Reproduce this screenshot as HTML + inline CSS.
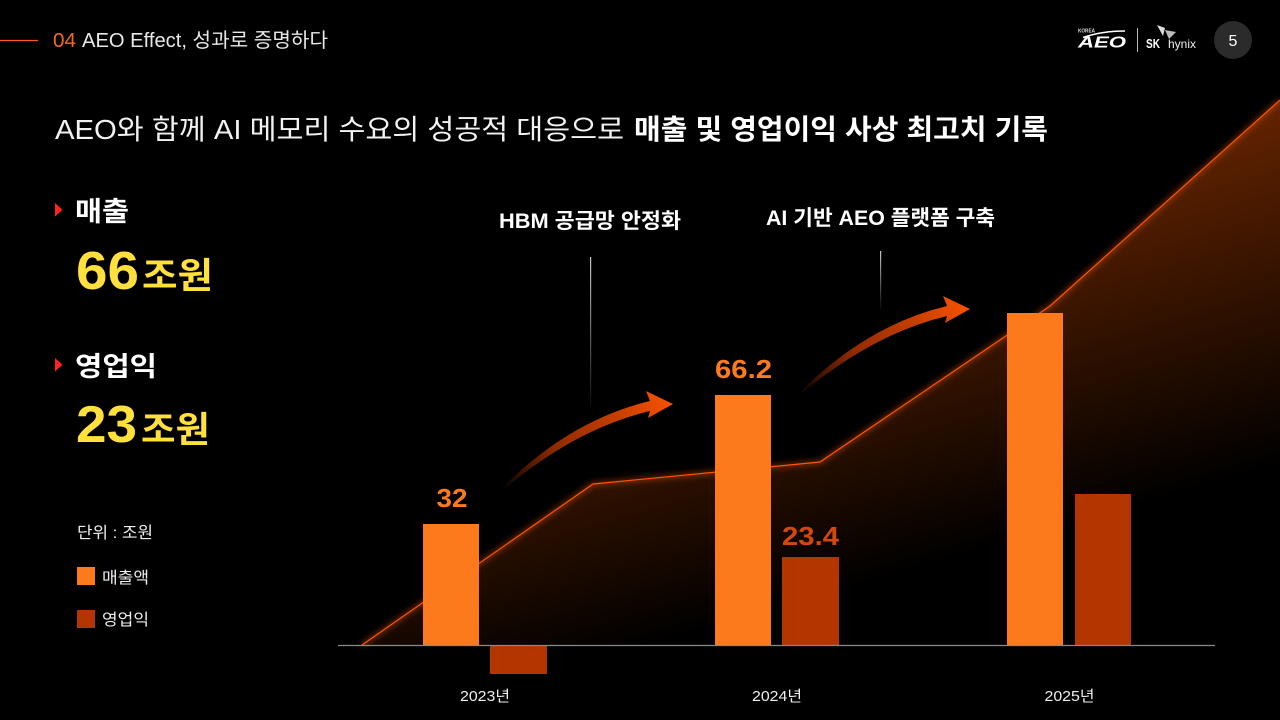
<!DOCTYPE html>
<html>
<head>
<meta charset="utf-8">
<style>
  html,body{margin:0;padding:0;background:#000;}
  body{width:1280px;height:720px;overflow:hidden;}
  svg{display:block;}
  text{font-family:"Liberation Sans","Noto Sans CJK KR",sans-serif;}
</style>
</head>
<body>
<svg width="1280" height="720" viewBox="0 0 1280 720" xmlns="http://www.w3.org/2000/svg">
  <defs>
    <linearGradient id="areaG" gradientUnits="userSpaceOnUse" x1="525" y1="308" x2="624" y2="654">
      <stop offset="0" stop-color="#ff5a00" stop-opacity="0.40"/>
      <stop offset="1" stop-color="#ff5a00" stop-opacity="0"/>
    </linearGradient>
    <linearGradient id="arrowG" gradientUnits="userSpaceOnUse" x1="502" y1="488" x2="673" y2="404">
      <stop offset="0" stop-color="#e04400" stop-opacity="0"/>
      <stop offset="0.35" stop-color="#c23a00" stop-opacity="0.75"/>
      <stop offset="1" stop-color="#f85200" stop-opacity="1"/>
    </linearGradient>
    <linearGradient id="vline" x1="0" y1="0" x2="0" y2="1">
      <stop offset="0" stop-color="#c8c8c8" stop-opacity="1"/>
      <stop offset="1" stop-color="#c8c8c8" stop-opacity="0"/>
    </linearGradient>
    <filter id="glow" x="-20%" y="-20%" width="140%" height="140%">
      <feGaussianBlur stdDeviation="3"/>
    </filter>
  </defs>

  <rect width="1280" height="720" fill="#000"/>

  <!-- header -->
  <line x1="0" y1="40.5" x2="38" y2="40.5" stroke="#ff5a1a" stroke-width="1.2"/>
  <text x="53" y="47" font-size="20" fill="#f26a22" textLength="23" lengthAdjust="spacingAndGlyphs">04</text>
  <text x="82" y="47" font-size="20" fill="#e8e8e8" textLength="246" lengthAdjust="spacingAndGlyphs">AEO Effect, 성과로 증명하다</text>

  <!-- logos -->
  <text x="1078" y="32.5" font-size="5" font-weight="bold" fill="#ddd" textLength="17" lengthAdjust="spacingAndGlyphs">KOREA</text>
  <path d="M1083,37.5 Q1102,31 1125,31" stroke="#fff" stroke-width="1.6" fill="none"/>
  <text x="1078" y="47.5" font-size="16" font-weight="bold" font-style="italic" fill="#fff" textLength="48" lengthAdjust="spacingAndGlyphs">AEO</text>
  <line x1="1137.5" y1="28" x2="1137.5" y2="52" stroke="#bbb" stroke-width="1"/>
  <text x="1146" y="48" font-size="13" font-weight="bold" fill="#fff" textLength="14" lengthAdjust="spacingAndGlyphs">SK</text>
  <path d="M1157,25 L1165,28 L1163,36 Z" fill="#ddd"/>
  <path d="M1165,30 L1176,32 L1169,39 Z" fill="#bbb"/>
  <text x="1168" y="48" font-size="12" fill="#eee" textLength="28" lengthAdjust="spacingAndGlyphs">hynix</text>
  <circle cx="1233" cy="40" r="19" fill="#2b2b2b"/>
  <text x="1233" y="46" font-size="16" fill="#fff" text-anchor="middle">5</text>

  <!-- title -->
  <text x="55" y="139" font-size="28" fill="#f2f2f2" textLength="569" lengthAdjust="spacingAndGlyphs">AEO와 함께 AI 메모리 수요의 성공적 대응으로</text>
  <text x="634" y="139" font-size="28" font-weight="bold" fill="#ffffff" textLength="414" lengthAdjust="spacingAndGlyphs">매출 및 영업이익 사상 최고치 기록</text>

  <!-- left KPIs -->
  <path d="M55,203 L62.5,209.8 L55,216.6 Z" fill="#ff2222"/>
  <text x="75" y="221" font-size="27" font-weight="bold" fill="#fff" textLength="54" lengthAdjust="spacingAndGlyphs">매출</text>
  <text x="76" y="289" font-size="54" font-weight="bold" fill="#ffe03c" textLength="63" lengthAdjust="spacingAndGlyphs">66</text>
  <text x="142" y="288" font-size="36" font-weight="bold" fill="#ffe03c" textLength="71" lengthAdjust="spacingAndGlyphs">조원</text>

  <path d="M55,358 L62.5,364.8 L55,371.6 Z" fill="#ff2222"/>
  <text x="75" y="376" font-size="27" font-weight="bold" fill="#fff" textLength="82" lengthAdjust="spacingAndGlyphs">영업익</text>
  <text x="76" y="442" font-size="52" font-weight="bold" fill="#ffe03c" textLength="61" lengthAdjust="spacingAndGlyphs">23</text>
  <text x="141" y="442" font-size="36" font-weight="bold" fill="#ffe03c" textLength="69" lengthAdjust="spacingAndGlyphs">조원</text>

  <!-- legend -->
  <text x="77" y="538" font-size="16" fill="#eee" textLength="76" lengthAdjust="spacingAndGlyphs">단위 : 조원</text>
  <rect x="77" y="567" width="18" height="18" fill="#fd7a1c"/>
  <text x="102" y="583" font-size="16" fill="#eee" textLength="47" lengthAdjust="spacingAndGlyphs">매출액</text>
  <rect x="77" y="610" width="18" height="18" fill="#b33600"/>
  <text x="102" y="625" font-size="16" fill="#eee" textLength="47" lengthAdjust="spacingAndGlyphs">영업익</text>

  <!-- area fill -->
  <polygon points="362,645 593,484 820,462 1050,306 1280,100 1280,645" fill="url(#areaG)"/>
  <polyline points="362,645 593,484 820,462 1050,306 1280,100" fill="none" stroke="#ff5a00" stroke-width="4" stroke-opacity="0.45" filter="url(#glow)"/>
  <polyline points="362,645 593,484 820,462 1050,306 1280,100" fill="none" stroke="#ff5500" stroke-width="1.2"/>

  <!-- vertical guide lines -->
  <rect x="590" y="257" width="1.2" height="156" fill="url(#vline)"/>
  <rect x="880" y="251" width="1.2" height="60" fill="url(#vline)"/>

  <!-- annotations -->
  <text x="499" y="228" font-size="21" font-weight="bold" fill="#fff" textLength="182" lengthAdjust="spacingAndGlyphs">HBM 공급망 안정화</text>
  <text x="766" y="225" font-size="21" font-weight="bold" fill="#fff" textLength="229" lengthAdjust="spacingAndGlyphs">AI 기반 AEO 플랫폼 구축</text>

  <!-- arrows -->
  <g>
    <path d="M502,488 Q570,420 650,401 L646,391 L673,404 L648,418 L650,411 Q575,429 503,490 Z" fill="url(#arrowG)"/>
  </g>
  <g transform="translate(297,-95)">
    <path d="M502,488 Q570,420 650,401 L646,391 L673,404 L648,418 L650,411 Q575,429 503,490 Z" fill="url(#arrowG)"/>
  </g>

  <!-- bars -->
  <rect x="423" y="524" width="56" height="121" fill="#fd7a1c"/>
  <rect x="490" y="645" width="57" height="29" fill="#b33600"/>
  <rect x="715" y="395" width="56" height="250" fill="#fd7a1c"/>
  <rect x="782" y="557" width="57" height="88" fill="#b33600"/>
  <rect x="1007" y="313" width="56" height="332" fill="#fd7a1c"/>
  <rect x="1075" y="494" width="56" height="151" fill="#b33600"/>

  <!-- axis -->
  <line x1="338" y1="645.5" x2="1215" y2="645.5" stroke="#8a8a8a" stroke-width="1.2"/>

  <!-- value labels -->
  <text x="452" y="507" font-size="26" font-weight="bold" fill="#fd7a1c" text-anchor="middle" textLength="31" lengthAdjust="spacingAndGlyphs">32</text>
  <text x="743.5" y="378" font-size="26" font-weight="bold" fill="#fd7a1c" text-anchor="middle" textLength="57" lengthAdjust="spacingAndGlyphs">66.2</text>
  <text x="810.5" y="545" font-size="26" font-weight="bold" fill="#d4480e" text-anchor="middle" textLength="57" lengthAdjust="spacingAndGlyphs">23.4</text>

  <!-- x labels -->
  <text x="485" y="701" font-size="15" fill="#eee" text-anchor="middle" textLength="50" lengthAdjust="spacingAndGlyphs">2023년</text>
  <text x="777" y="701" font-size="15" fill="#eee" text-anchor="middle" textLength="50" lengthAdjust="spacingAndGlyphs">2024년</text>
  <text x="1069.5" y="701" font-size="15" fill="#eee" text-anchor="middle" textLength="50" lengthAdjust="spacingAndGlyphs">2025년</text>
</svg>
</body>
</html>
